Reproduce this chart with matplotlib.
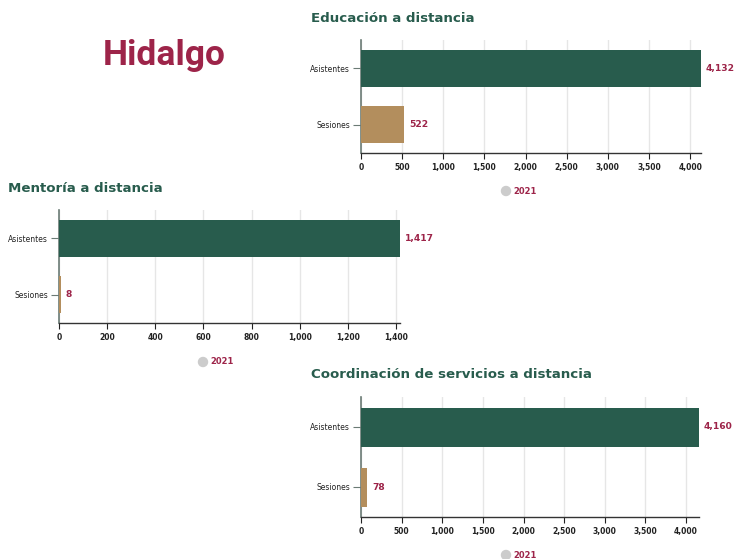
import numpy as np
import matplotlib
matplotlib.use("Agg")
import matplotlib.pyplot as plt
from matplotlib.ticker import FuncFormatter

# datos
categorias = ["Asistentes", "Sesiones"]
educacion = [4132, 522]
mentoria = [1417, 8]
coordinacion = [4160, 78]
ticks_edu = [0, 500, 1000, 1500, 2000, 2500, 3000, 3500, 4000]
ticks_men = [0, 200, 400, 600, 800, 1000, 1200, 1400]
ticks_coo = [0, 500, 1000, 1500, 2000, 2500, 3000, 3500, 4000]
anio = "2021"

verde = "#285C4D"
dorado = "#B38E5D"
guinda = "#9D2449"

W, H = 734, 559
fig = plt.figure(figsize=(W / 100, H / 100), dpi=100)
fig.patch.set_facecolor("white")


def ax_px(x0, x1, y0, y1):
    # coordenadas en pixeles (y desde arriba)
    return fig.add_axes([x0 / W, 1 - y1 / H, (x1 - x0) / W, (y1 - y0) / H])


def grafica(ax, valores, ticks, titulo, tpos, lpos):
    y = np.arange(len(categorias))
    ax.barh(y, valores, height=0.65, color=[verde, dorado], zorder=3)
    ax.set_ylim(1.5, -0.5)
    ax.set_xlim(0, max(valores))
    ax.set_yticks(y)
    ax.set_yticklabels(categorias, fontsize=5.5, color="#222222")
    ax.set_xticks(ticks)
    ax.xaxis.set_major_formatter(FuncFormatter(lambda v, p: f"{int(v):,}"))
    ax.tick_params(axis="x", labelsize=5.5, colors="#222222", length=4, width=0.8, pad=3)
    ax.tick_params(axis="y", length=6, width=0.8, color="#6b7b75", pad=2)
    for lab in ax.get_xticklabels():
        lab.set_fontweight("bold")
    ax.grid(axis="x", color="#e6e6e6", lw=1, zorder=0)
    ax.set_axisbelow(True)
    for s in ["top", "right"]:
        ax.spines[s].set_visible(False)
    ax.spines["left"].set_color("#6b7b75")
    ax.spines["left"].set_linewidth(1.2)
    ax.spines["bottom"].set_color("#333333")
    ax.spines["bottom"].set_linewidth(1)
    for yi, v in zip(y, valores):
        ax.annotate(f"{v:,}", (v, yi), xytext=(3.5, 0), textcoords="offset points",
                    va="center", ha="left", fontsize=6.6, fontweight="bold",
                    color=guinda, annotation_clip=False)
    fig.text(tpos[0] / W, 1 - tpos[1] / H, titulo, fontsize=9.6, fontweight="bold",
             color=verde, va="center", ha="left")
    fig.patches.append(matplotlib.patches.Ellipse((lpos[0] / W, 1 - lpos[1] / H),
                       9 / W, 9 / H, transform=fig.transFigure, color="#cccccc"))
    fig.text((lpos[0] + 7) / W, 1 - lpos[1] / H, anio, fontsize=6, fontweight="bold",
             color=guinda, va="center", ha="left")


ax1 = ax_px(361, 701, 40, 153)
grafica(ax1, educacion, ticks_edu, "Educación a distancia", (311, 18), (506, 191))

ax2 = ax_px(59, 400, 210, 323)
grafica(ax2, mentoria, ticks_men, "Mentoría a distancia", (8, 188), (203, 362))

ax3 = ax_px(361, 699, 397, 517)
grafica(ax3, coordinacion, ticks_coo, "Coordinación de servicios a distancia", (311, 375), (506, 555))

fig.text(164 / W, 1 - 55 / H, "Hidalgo", fontsize=25.5, fontweight="bold",
         color=guinda, ha="center", va="center", family="Roboto")

plt.savefig("out.png", dpi=100)
